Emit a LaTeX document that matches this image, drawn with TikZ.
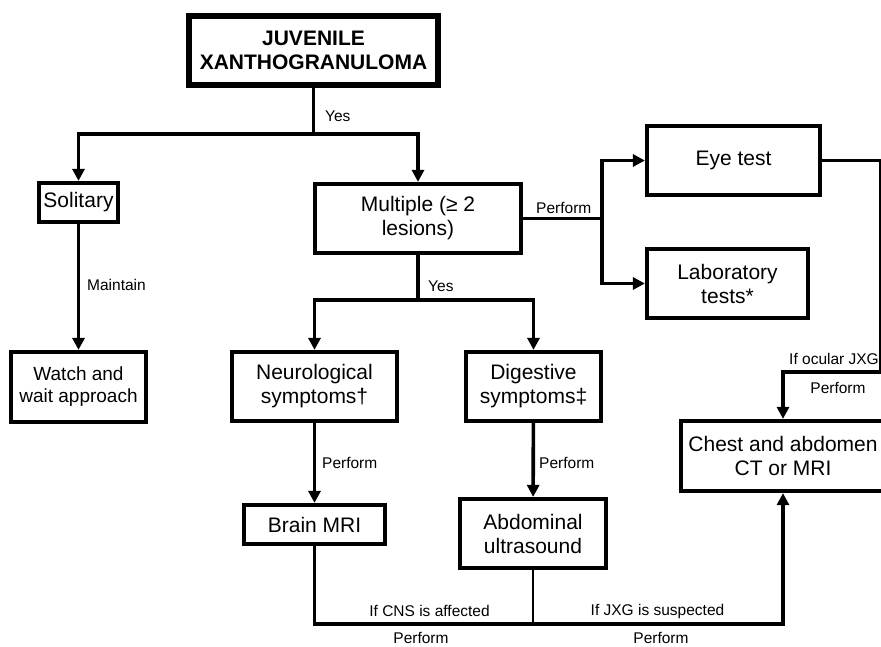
\documentclass[tikz,border=0pt]{standalone}
\usepackage{fontspec}
\setmainfont{Liberation Sans}
\usetikzlibrary{arrows.meta}

\begin{document}
\begin{tikzpicture}[x = 1pt, y = -1pt,
        box/.style = {draw, line width = 4.2pt, align = center, inner sep = 0pt, font = \fontsize{21}{24}\selectfont},
        lbl/.style = {inner sep = 0pt, font = \fontsize{15.5}{18}\selectfont},
        link/.style = {line width = 3.6pt},
        >= {Triangle[length = 12pt, width = 12pt]}]
    \clip (0,0) rectangle (881,647);
    % boxes
    \node[box, line width = 6pt, font = \fontsize{21}{24}\selectfont\bfseries, minimum width = 249pt, minimum height = 69pt] (juv) at (313.5,50.5) {JUVENILE\\XANTHOGRANULOMA};
    \node[box, minimum width = 79pt, minimum height = 39pt] (sol) at (78.5,202.5) {Solitary};
    \node[box, minimum width = 206pt, minimum height = 69pt] (mult) at (418,218.5) {Multiple (≥ 2\\lesions)};
    \node[box, minimum width = 173pt, minimum height = 69pt] (eye) at (733.5,160.5) {Eye test};
    \node[box, minimum width = 161pt, minimum height = 69pt] (lab) at (727.5,283.5) {Laboratory\\tests*};
    \node[box, minimum width = 135pt, minimum height = 70pt, font = \fontsize{19}{22}\selectfont] (watch) at (78.5,387) {Watch and\\wait approach};
    \node[box, minimum width = 165pt, minimum height = 69pt] (neuro) at (314.5,386.5) {Neurological\\symptoms†};
    \node[box, minimum width = 135pt, minimum height = 69pt] (dig) at (533.5,386.5) {Digestive\\symptoms‡};
    \node[box, minimum width = 141pt, minimum height = 39pt] (brain) at (314.5,524.5) {Brain MRI};
    \node[box, minimum width = 146pt, minimum height = 69pt] (abd) at (533,533.5) {Abdominal\\ultrasound};
    \node[box, minimum width = 204pt, minimum height = 70pt] (chest) at (783,456) {Chest and abdomen\\CT or MRI};
    % branch points
    \coordinate (s1) at (313.5,134);
    \coordinate (s2) at (602,218.5);
    \coordinate (s3) at (418,300);
    \coordinate (eyeR) at (881,160.5);
    \coordinate (ocu) at (881,372);
    \coordinate (join) at (533,624);
    % connectors
    \draw[link] (juv) -- (s1);
    \draw[link, ->] (s1) -| (sol);
    \draw[link, ->] (s1) -| (mult);
    \draw[link, ->] (sol) -- (watch);
    \draw[link] (mult) -- (s2);
    \draw[link, ->] (s2) |- (eye);
    \draw[link, ->] (s2) |- (lab);
    \draw[link] (mult) -- (s3);
    \draw[link, ->] (s3) -| (neuro);
    \draw[link, ->] (s3) -| (dig);
    \draw[link, ->] (neuro) -- (brain);
    \draw[link, ->] (dig) -- (abd);
    \draw[link] (eye) -- (eyeR) -- (ocu);
    \draw[link, ->] (ocu) -| (chest);
    \draw[link] (brain) |- (join);
    \draw[line width = 2pt] (abd) -- (join);
    \draw[link, ->] (join) -| (chest);
    % labels
    \node[lbl, anchor = west] (l1) at (325,116) {Yes};
    \node[lbl, anchor = west] (l2) at (87,285) {Maintain};
    \node[lbl, anchor = west] (l3) at (536,208) {Perform};
    \node[lbl, anchor = west] (l4) at (428,286) {Yes};
    \node[lbl, anchor = west] (l5) at (322,463) {Perform};
    \node[lbl, anchor = west] (l6) at (539,463) {Perform};
    \node[lbl, anchor = east] (l7) at (879,359) {If ocular JXG};
    \node[lbl] (l8) at (838,388) {Perform};
    \node[lbl] (l9) at (429.5,611) {If CNS is affected};
    \node[lbl] (l10) at (421,638) {Perform};
    \node[lbl] (l11) at (657.5,611) {If JXG is suspected};
    \node[lbl] (l12) at (661,638) {Perform};
\end{tikzpicture}
\end{document}
